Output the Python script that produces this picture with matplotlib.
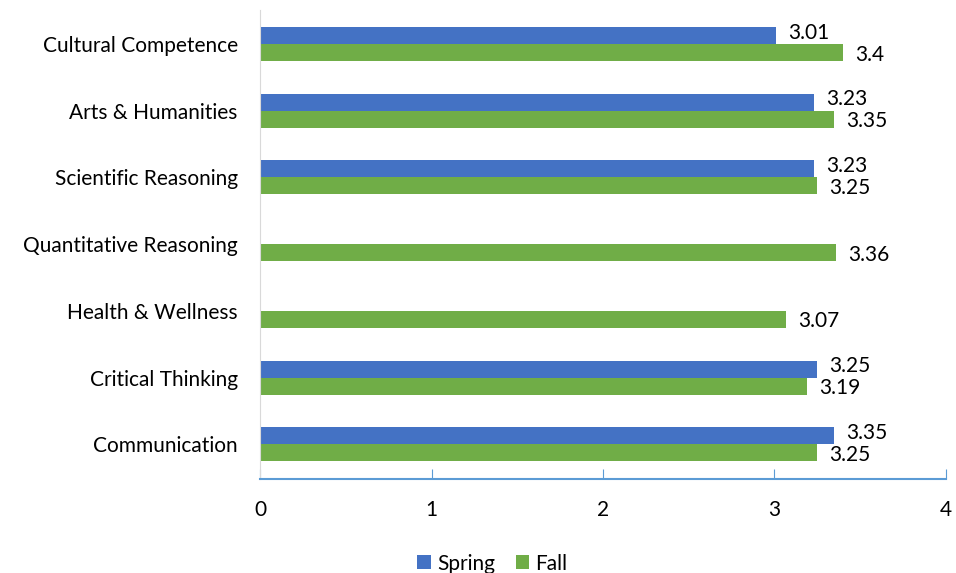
import numpy as np
import matplotlib.pyplot as plt

plt.rcParams['font.family'] = ['Lato', 'DejaVu Sans']

categories = ['Communication', 'Critical Thinking', 'Health & Wellness',
              'Quantitative Reasoning', 'Scientific Reasoning',
              'Arts & Humanities', 'Cultural Competence']
spring = [3.35, 3.25, None, None, 3.23, 3.23, 3.01]
fall = [3.25, 3.19, 3.07, 3.36, 3.25, 3.35, 3.4]
xticks = [0, 1, 2, 3, 4]

blue = '#4472C4'
green = '#70AD47'
fs = 15

fig = plt.figure(figsize=(9.56, 5.73), dpi=100)
ax = fig.add_axes([0.272, 0.164, 0.7175, 0.8185])

y = np.arange(len(categories))
h = 0.255
sp_y = [yy for yy, v in zip(y, spring) if v is not None]
sp_v = [v for v in spring if v is not None]
b1 = ax.barh(np.array(sp_y) + h / 2, sp_v, height=h, color=blue, label='Spring')
b2 = ax.barh(y - h / 2, fall, height=h, color=green, label='Fall')

# value labels: spring nudged up a bit, fall a bit down
for bars, vals, dy in ((b1, sp_v, 2), (b2, fall, -1.5)):
    for bar, v in zip(bars, vals):
        ax.annotate(f'{v:g}', (v, bar.get_y() + bar.get_height() / 2),
                    xytext=(8.5, dy), textcoords='offset points',
                    va='center', ha='left', fontsize=fs)

ax.set_yticks(y)
ax.set_yticklabels(categories, fontsize=fs)
ax.set_ylim(-0.52, 6.51)
ax.set_xlim(0, 4)
ax.set_xticks(xticks)
ax.tick_params(axis='x', direction='in', length=7, color='#5B9BD5', pad=15, labelsize=fs)
ax.tick_params(axis='y', length=0, pad=16)

for s in ['top', 'right']:
    ax.spines[s].set_visible(False)
ax.spines['left'].set_color('#D9D9D9')
ax.spines['bottom'].set_color('#5B9BD5')
ax.spines['bottom'].set_linewidth(1.5)

fig.legend(handles=[b1, b2], loc='lower center', bbox_to_anchor=(0.515, -0.034),
           ncol=2, frameon=False, fontsize=fs, handlelength=0.65, handleheight=0.65,
           columnspacing=1.0, handletextpad=0.3)

fig.savefig('out.png', dpi=100)
